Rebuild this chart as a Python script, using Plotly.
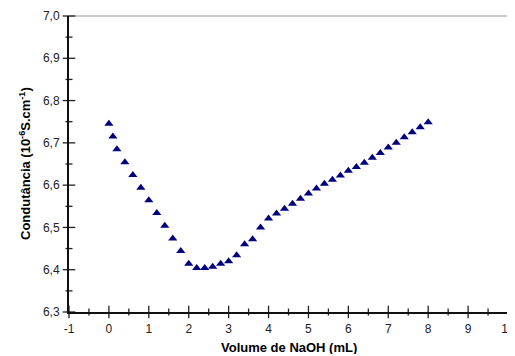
import plotly.graph_objects as go

volume_ml = [0, 0.1, 0.2, 0.4, 0.6, 0.8, 1.0, 1.2, 1.4, 1.6, 1.8, 2.0, 2.2, 2.4, 2.6, 2.8,
             3.0, 3.2, 3.4, 3.6, 3.8, 4.0, 4.2, 4.4, 4.6, 4.8, 5.0, 5.2, 5.4, 5.6, 5.8,
             6.0, 6.2, 6.4, 6.6, 6.8, 7.0, 7.2, 7.4, 7.6, 7.8, 8.0]
condutancia = [6.745, 6.715, 6.685, 6.654, 6.624, 6.594, 6.564, 6.534, 6.504, 6.474,
               6.444, 6.414, 6.404, 6.404, 6.407, 6.414, 6.420, 6.434, 6.460, 6.472,
               6.500, 6.521, 6.533, 6.544, 6.556, 6.568, 6.580, 6.592, 6.603, 6.613,
               6.623, 6.634, 6.643, 6.653, 6.665, 6.676, 6.689, 6.700, 6.713, 6.725,
               6.737, 6.749]
x_range = [-1, 10]
y_range = [6.3, 7.0]
x_tick_vals = [-1, 0, 1, 2, 3, 4, 5, 6, 7, 8, 9, 10]
x_tick_text = ["-1", "0", "1", "2", "3", "4", "5", "6", "7", "8", "9", "10"]
x_minor_vals = [-0.5, 0.5, 1.5, 2.5, 3.5, 4.5, 5.5, 6.5, 7.5, 8.5, 9.5]
y_tick_vals = [6.3, 6.4, 6.5, 6.6, 6.7, 6.8, 6.9, 7.0]
y_minor_vals = [6.35, 6.45, 6.55, 6.65, 6.75, 6.85, 6.95]

fig = go.Figure(go.Scatter(
    x=volume_ml, y=condutancia, mode="markers",
    marker=dict(symbol="triangle-up", size=8, color="#00007F", line=dict(width=0)),
    showlegend=False, hoverinfo="x+y",
))

# tick marks drawn as line markers on the axes
tick_line = dict(color="#222", width=1.3)
fig.add_trace(go.Scatter(x=x_tick_vals, y=[y_range[0]] * len(x_tick_vals), mode="markers",
                         marker=dict(symbol="line-ns", size=9, line=tick_line),
                         cliponaxis=False, showlegend=False, hoverinfo="skip"))
fig.add_trace(go.Scatter(x=x_minor_vals, y=[y_range[0]] * len(x_minor_vals), mode="markers",
                         marker=dict(symbol="line-ns", size=5, line=tick_line),
                         cliponaxis=False, showlegend=False, hoverinfo="skip"))
fig.add_trace(go.Scatter(x=[x_range[0]] * len(y_tick_vals), y=y_tick_vals, mode="markers",
                         marker=dict(symbol="line-ew", size=9, line=tick_line),
                         cliponaxis=False, showlegend=False, hoverinfo="skip"))
fig.add_trace(go.Scatter(x=[x_range[0]] * len(y_minor_vals), y=y_minor_vals, mode="markers",
                         marker=dict(symbol="line-ew", size=5, line=tick_line),
                         cliponaxis=False, showlegend=False, hoverinfo="skip"))

font_ticks = dict(family="Liberation Sans, Arial", size=12, color="#222")
font_title = dict(family="Liberation Sans, Arial", size=13, color="black")

axis_common = dict(
    showline=True, linecolor="#111111", linewidth=2, mirror=False,
    showgrid=False, zeroline=False, automargin=False,
    ticks="", ticklabelstandoff=5, tickfont=font_ticks,
)

fig.update_xaxes(range=x_range, tickmode="array", tickvals=x_tick_vals, ticktext=x_tick_text,
                 ticklabeloverflow="allow", **axis_common)
fig.update_yaxes(range=y_range, tickmode="array", tickvals=y_tick_vals, tickformat=".1f",
                 **axis_common)

# axis titles
fig.add_annotation(text="<b>Volume de NaOH (mL)</b>", xref="paper", yref="paper",
                   x=0.5, y=0, xanchor="center", yanchor="top", yshift=-26,
                   showarrow=False, font=font_title)
fig.add_annotation(text="<b>Condutância (10<sup>-6</sup>S.cm<sup>-1</sup>)</b>",
                   xref="paper", yref="paper", x=0, y=0.5, xanchor="center", yanchor="middle",
                   xshift=-44, textangle=-90, showarrow=False, font=font_title)

# top and right border
fig.add_shape(type="line", xref="paper", yref="paper", x0=0, y0=1, x1=1, y1=1,
              line=dict(color="#222", width=1.5), layer="above")
fig.add_shape(type="line", xref="paper", yref="paper", x0=1, y0=0, x1=1, y1=1,
              line=dict(color="#222", width=1.5), layer="above")

fig.update_layout(
    template="simple_white",
    width=507, height=346,
    margin=dict(l=61, r=7, t=8, b=42),
    paper_bgcolor="white", plot_bgcolor="white",
    separators=",.",
)

fig.write_html("out.html")
